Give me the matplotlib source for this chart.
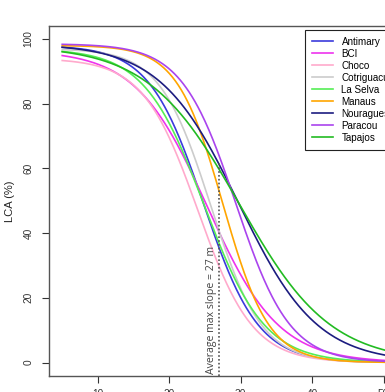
import numpy as np
import matplotlib
matplotlib.use("Agg")
import matplotlib.pyplot as plt

plt.rcParams["font.family"] = ["Liberation Sans", "DejaVu Sans"]

# ---------------------------------------------------------------------------
# Fitted logistic curves per site
# LCA = top / (1 + exp(slope * (height - mid)))
# ---------------------------------------------------------------------------
sites = ["Antimary", "BCI", "Choco", "Cotriguacu", "La Selva",
         "Manaus", "Nouragues", "Paracou", "Tapajos"]
top = [98.0, 96.5, 94.0, 97.0, 97.0, 98.0, 98.5, 98.5, 98.0]
mid = [24.8, 25.3, 24.0, 25.8, 24.9, 27.5, 29.7, 29.3, 29.8]
slope = [0.262, 0.2, 0.26, 0.28, 0.237, 0.311, 0.182, 0.264, 0.157]
colors = ["#3b3bdc", "#ee33ee", "#ffaacc", "#cccccc", "#55ee55",
          "#ffa500", "#1c1c80", "#aa44ee", "#22bb22"]

height_min, height_max = 5, 60
avg_max_slope = 27
avg_lca_at_slope = 62

fig = plt.figure(figsize=(3.85, 3.92), dpi=100)
ax = fig.add_axes([49 / 385, 1 - 375.5 / 392, 356 / 385, 349.5 / 392])

h = np.linspace(height_min, height_max, 400)
for name, a, m, k, c in zip(sites, top, mid, slope, colors):
    ax.plot(h, a / (1 + np.exp(k * (h - m))), color=c, lw=1.2, label=name)

ax.plot([avg_max_slope, avg_max_slope], [-4, avg_lca_at_slope],
        color="#555555", lw=1.2, ls=(0, (1, 1.3)))
ax.text(avg_max_slope - 0.35, -3.4, "Average max slope = 27 m", rotation=90,
        ha="right", va="bottom", fontsize=7.6, color="#444444",
        family=["Open Sans", "DejaVu Sans"])

ax.set_xlim(3.15, 53)
ax.set_ylim(-4, 104)
ax.set_xticks([10, 20, 30, 40, 50])
ax.set_yticks([0, 20, 40, 60, 80, 100])
ax.tick_params(axis="both", direction="out", length=5, width=0.8,
               labelsize=7.3, color="#333333", labelcolor="#333333")
ax.tick_params(axis="x", pad=5)
ax.tick_params(axis="y", pad=6)
for lab in ax.get_yticklabels():
    lab.set_rotation(90)
    lab.set_va("center")
for s in ax.spines.values():
    s.set_color("#555555")
    s.set_linewidth(1.0)
ax.set_ylabel("LCA (%)", fontsize=8, labelpad=6, color="#222222")

leg = ax.legend(loc="upper left", bbox_to_anchor=(305 / 385, 1 - 30 / 392),
                bbox_transform=fig.transFigure, borderaxespad=0,
                fontsize=7.1, handlelength=2.1, handletextpad=0.9,
                labelspacing=0.2, borderpad=0.7, fancybox=False,
                framealpha=1, edgecolor="#222222")
leg.get_frame().set_linewidth(0.8)

fig.savefig("out.png", dpi=100)
